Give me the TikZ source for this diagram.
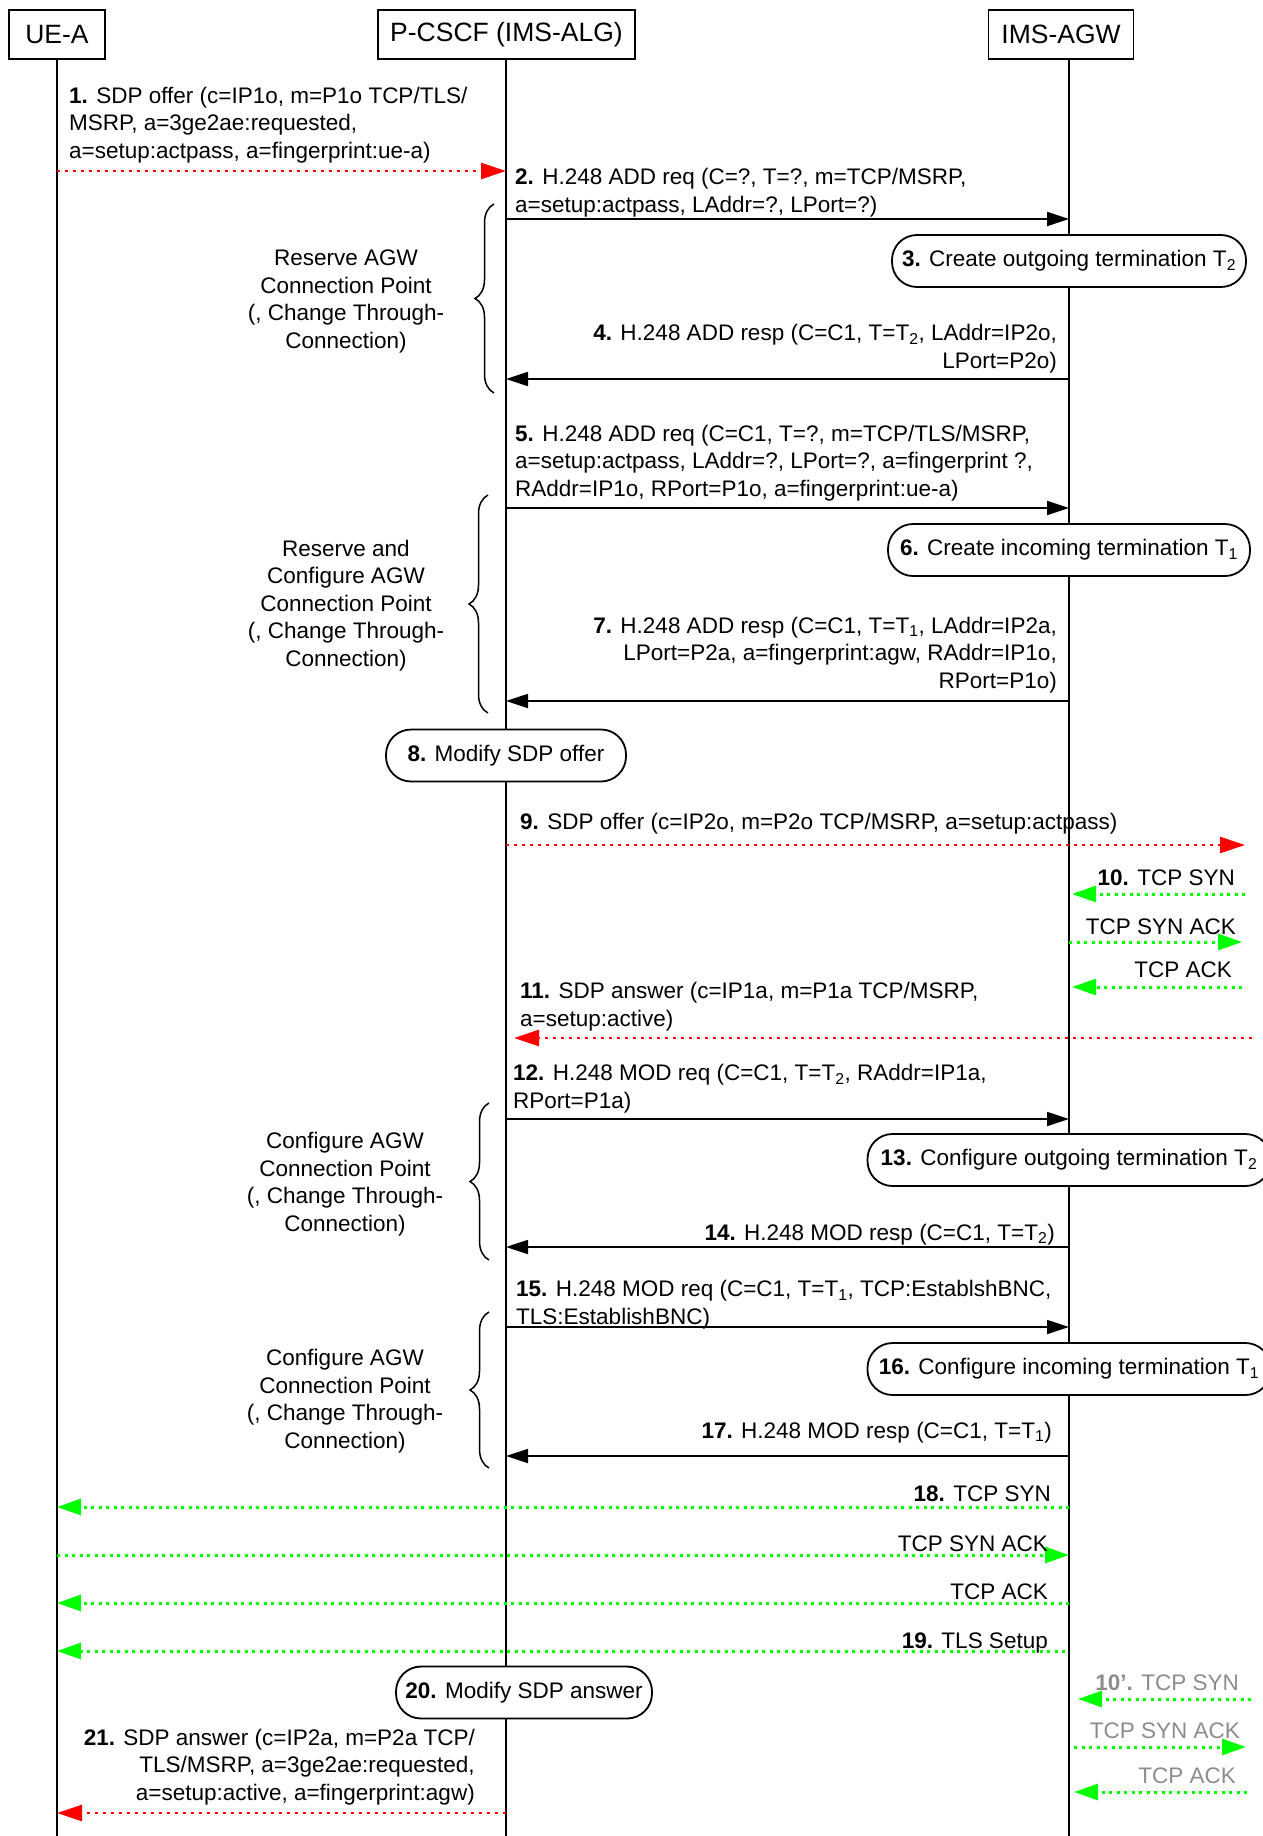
\documentclass[tikz,border=0pt]{standalone}
\usepackage{fontspec}
\setmainfont{Liberation Sans}
\usetikzlibrary{arrows.meta,decorations.pathreplacing}
\definecolor{sdpred}{RGB}{255,0,0}
\definecolor{tcpgreen}{RGB}{0,255,0}
\definecolor{faded}{RGB}{140,140,140}
\newcommand{\msgfont}{\fontsize{22.5}{27.5}\selectfont}
% lifeline positions
\newcommand{\xue}{57}
\newcommand{\xpc}{506}
\newcommand{\xgw}{1069}
% message: name, style, from x, to x, y
\newcommand{\sigmsg}[5]{%
  \coordinate (#1a) at (#3,#5);
  \coordinate (#1b) at (#4,#5);
  \draw[#2] (#1a) -- (#1b);}
\begin{document}
\begin{tikzpicture}[x=1pt, y=-1pt,
  actor/.style={draw, line width=1.3pt, inner sep=0pt, minimum height=49pt, font=\fontsize{26.5}{30}\selectfont},
  lifeline/.style={line width=1.3pt},
  h248/.style={line width=1.8pt, -{Triangle[length=22pt,width=14pt]}},
  sdp/.style={sdpred, line width=2.6pt, dash pattern=on 2.6pt off 5.4pt, -{Triangle[length=25pt,width=16pt]}},
  tcp/.style={tcpgreen, line width=3pt, dash pattern=on 3pt off 4.5pt, -{Triangle[length=24pt,width=16pt]}},
  actbox/.style={draw, line width=1.8pt, fill=white, rounded corners=25pt, minimum height=52pt, inner sep=0pt, font=\msgfont},
  txt/.style={inner sep=0pt, font=\msgfont},
  grp/.style={decorate, decoration={brace, amplitude=19pt}, line width=1.5pt},
]
\useasboundingbox (0,0) rectangle (1263,1836);

% actors and lifelines
\node[actor, minimum width=96pt] (ue) at (57,34.5) {UE-A};
\node[actor, minimum width=257pt] (pcscf) at (506.5,34.5) {P-CSCF (IMS-ALG)};
\node[actor, minimum width=145pt] (agw) at (1061,34.5) {IMS-AGW};
\coordinate (ue-top) at (\xue,59);   \coordinate (ue-bot) at (\xue,1836);
\coordinate (pc-top) at (\xpc,59);   \coordinate (pc-bot) at (\xpc,1836);
\coordinate (gw-top) at (\xgw,59);   \coordinate (gw-bot) at (\xgw,1836);
\draw[lifeline] (ue-top) -- (ue-bot);
\draw[lifeline] (pc-top) -- (pc-bot);
\draw[lifeline] (gw-top) -- (gw-bot);

% messages
\sigmsg{m1}{sdp}{\xue}{\xpc}{171}
\sigmsg{m2}{h248}{\xpc}{\xgw}{219}
\sigmsg{m4}{h248}{\xgw}{\xpc}{379}
\sigmsg{m5}{h248}{\xpc}{\xgw}{508}
\sigmsg{m7}{h248}{\xgw}{\xpc}{701}
\sigmsg{m9}{sdp}{\xpc}{1245}{845}
\sigmsg{m10}{tcp}{1245}{1072}{894}
\sigmsg{m10b}{tcp}{\xgw}{1242}{942}
\sigmsg{m10c}{tcp}{1242}{1072}{987}
\sigmsg{m11}{sdp}{1252}{514}{1038}
\sigmsg{m12}{h248}{\xpc}{\xgw}{1119}
\sigmsg{m14}{h248}{\xgw}{\xpc}{1247}
\sigmsg{m15}{h248}{\xpc}{\xgw}{1327}
\sigmsg{m17}{h248}{\xgw}{\xpc}{1456}
\sigmsg{m18}{tcp}{\xgw}{\xue}{1507}
\sigmsg{m18b}{tcp}{\xue}{\xgw}{1555}
\sigmsg{m18c}{tcp}{\xgw}{\xue}{1603}
\sigmsg{m19}{tcp}{1065}{\xue}{1651}
\sigmsg{m10x}{tcp}{1251}{1078}{1699}
\sigmsg{m10y}{tcp}{1074}{1246}{1747}
\sigmsg{m10z}{tcp}{1247}{1074}{1792}
\sigmsg{m21}{sdp}{\xpc}{\xue}{1813}

% message labels (anchored at the baseline of their last line)
\node[txt, align=left, anchor=base west] (t1) at (69,158) {\textbf{1.} SDP offer (c=IP1o, m=P1o TCP/TLS/\\MSRP, a=3ge2ae:requested,\\a=setup:actpass, a=fingerprint:ue-a)};
\node[txt, align=left, anchor=base west] (t2) at (515,212) {\textbf{2.} H.248 ADD req (C=?, T=?, m=TCP/MSRP,\\a=setup:actpass, LAddr=?, LPort=?)};
\node[txt, align=right, anchor=base east] (t4) at (1057,368) {\textbf{4.} H.248 ADD resp (C=C1, T=T\textsubscript{2}, LAddr=IP2o,\\LPort=P2o)};
\node[txt, align=left, anchor=base west] (t5) at (515,496) {\textbf{5.} H.248 ADD req (C=C1, T=?, m=TCP/TLS/MSRP,\\a=setup:actpass, LAddr=?, LPort=?, a=fingerprint ?,\\RAddr=IP1o, RPort=P1o, a=fingerprint:ue-a)};
\node[txt, align=right, anchor=base east] (t7) at (1057,688) {\textbf{7.} H.248 ADD resp (C=C1, T=T\textsubscript{1}, LAddr=IP2a,\\LPort=P2a, a=fingerprint:agw, RAddr=IP1o,\\RPort=P1o)};
\node[txt, anchor=base west] (t9) at (520,829) {\textbf{9.} SDP offer (c=IP2o, m=P2o TCP/MSRP, a=setup:actpass)};
\node[txt, anchor=base east] (t10) at (1235,885) {\textbf{10.} TCP SYN};
\node[txt, anchor=base east] (t10b) at (1236,934) {TCP SYN ACK};
\node[txt, anchor=base east] (t10c) at (1232,977) {TCP ACK};
\node[txt, align=left, anchor=base west] (t11) at (520,1026) {\textbf{11.} SDP answer (c=IP1a, m=P1a TCP/MSRP,\\a=setup:active)};
\node[txt, align=left, anchor=base west] (t12) at (513,1108) {\textbf{12.} H.248 MOD req (C=C1, T=T\textsubscript{2}, RAddr=IP1a,\\RPort=P1a)};
\node[txt, anchor=base east] (t14) at (1055,1240) {\textbf{14.} H.248 MOD resp (C=C1, T=T\textsubscript{2})};
\node[txt, align=left, anchor=base west] (t15) at (516,1324) {\textbf{15.} H.248 MOD req (C=C1, T=T\textsubscript{1}, TCP:EstablshBNC,\\TLS:EstablishBNC)};
\node[txt, anchor=base east] (t17) at (1052,1438) {\textbf{17.} H.248 MOD resp (C=C1, T=T\textsubscript{1})};
\node[txt, anchor=base east] (t18) at (1051,1501) {\textbf{18.} TCP SYN};
\node[txt, anchor=base east] (t18b) at (1048,1551) {TCP SYN ACK};
\node[txt, anchor=base east] (t18c) at (1048,1599) {TCP ACK};
\node[txt, anchor=base east] (t19) at (1048,1648) {\textbf{19.} TLS Setup};
\node[txt, faded, anchor=base east] (t10x) at (1239,1690) {\textbf{10'.} TCP SYN};
\node[txt, faded, anchor=base east] (t10y) at (1240,1738) {TCP SYN ACK};
\node[txt, faded, anchor=base east] (t10z) at (1236,1783) {TCP ACK};
\node[txt, align=right, anchor=base east] (t21) at (475,1800) {\textbf{21.} SDP answer (c=IP2a, m=P2a TCP/\\TLS/MSRP, a=3ge2ae:requested,\\a=setup:active, a=fingerprint:agw)};

% actions
\node[actbox, minimum width=354pt] (a3) at (\xgw,261) {\textbf{3.} Create outgoing termination T\textsubscript{2}};
\node[actbox, minimum width=362pt] (a6) at (\xgw,550) {\textbf{6.} Create incoming termination T\textsubscript{1}};
\node[actbox, minimum width=240pt] (a8) at (\xpc,755.5) {\textbf{8.} Modify SDP offer};
\node[actbox, minimum width=403pt] (a13) at (\xgw,1160) {\textbf{13.} Configure outgoing termination T\textsubscript{2}};
\node[actbox, minimum width=403pt] (a16) at (\xgw,1369) {\textbf{16.} Configure incoming termination T\textsubscript{1}};
\node[actbox, minimum width=256pt] (a20) at (524,1692.5) {\textbf{20.} Modify SDP answer};

% groups
\coordinate (g1a) at (494,393);  \coordinate (g1b) at (494,204);
\coordinate (g2a) at (488,713);  \coordinate (g2b) at (488,495);
\coordinate (g3a) at (489,1260); \coordinate (g3b) at (489,1103);
\coordinate (g4a) at (489,1468); \coordinate (g4b) at (489,1312);
\draw[grp] (g1a) -- (g1b);
\draw[grp] (g2a) -- (g2b);
\draw[grp] (g3a) -- (g3b);
\draw[grp] (g4a) -- (g4b);
\node[txt, align=center, anchor=base] (n1) at (346,348) {Reserve AGW\\Connection Point\\(, Change Through-\\Connection)};
\node[txt, align=center, anchor=base] (n2) at (346,666) {Reserve and\\Configure AGW\\Connection Point\\(, Change Through-\\Connection)};
\node[txt, align=center, anchor=base] (n3) at (345,1231) {Configure AGW\\Connection Point\\(, Change Through-\\Connection)};
\node[txt, align=center, anchor=base] (n4) at (345,1448) {Configure AGW\\Connection Point\\(, Change Through-\\Connection)};

\end{tikzpicture}
\end{document}
